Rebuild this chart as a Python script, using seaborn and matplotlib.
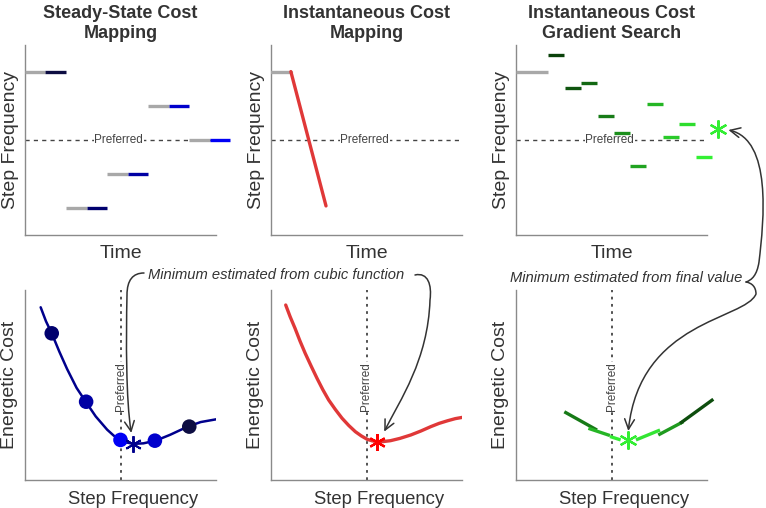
import matplotlib
import pandas as pd
import seaborn as sns

matplotlib.use("Agg")
import matplotlib.pyplot as plt
from matplotlib.path import Path
from matplotlib.patches import FancyArrowPatch

# ---- data (both axes of every panel run 0-100) ----
PREFERRED = 50

# steady-state cost mapping, conditions in the order they were walked
ss_start = [0, 21.5, 43, 64.5, 86]
ss_hold = 10.7
ss_freq = [86, 14, 32, 68, 50]
ss_cost = [28.1, 77.2, 41.2, 20.7, 21.1]
cubic_freq = [8.2, 11, 14, 18, 22, 27, 31.8, 37, 43, 46.3, 49.4, 53, 56.7, 62, 68.4, 76, 85.2, 92, 100.4]
cubic_cost = [90.9, 83.5, 77.2, 67.5, 58.5, 48.5, 41.2, 33.5, 26.5, 23.5, 21.1, 19.8, 19.0, 19.3, 20.7, 23.8, 28.1, 30.5, 32.0]
cubic_min = (56.7, 19.0)

# instantaneous cost mapping: hold, then a fast sweep
sweep_time = [0, 10.4, 28.8]
sweep_freq = [86, 86, 15.3]
inst_freq = [7.7, 10, 12.6, 15.2, 17.9, 21, 24.1, 27.1, 30.2, 33.7, 37.2, 40.7, 44.2, 47.3, 50.4,
             53, 55.6, 58.5, 62.6, 67.5, 73.2, 78.5, 83.7, 88, 92.5, 96.5, 100.4]
inst_cost = [92.1, 86.0, 79.8, 73.1, 66.7, 60.0, 53.5, 47.6, 42.1, 37.1, 32.5, 28.7, 25.4, 23.2, 21.4,
             20.6, 20.2, 20.2, 20.7, 21.9, 23.7, 25.8, 28.1, 29.8, 31.2, 32.3, 33.0]
inst_min = (55.6, 20.2)

# gradient search: initial hold, then short steps
gs_init = (0, 16.8, 86)
gs_start = [16.8, 25.7, 34, 42.8, 51.2, 59.7, 68.4, 76.8, 85.3, 94.1]
gs_len = 8.4
gs_freq = [94.7, 77.2, 80.2, 62.8, 53.8, 36.5, 68.8, 51.6, 58.4, 41.2]
gs_final = (106, 55.8)
gs_seg_f0 = [25.3, 37.9, 49.2, 62.8, 74.5, 85.9]
gs_seg_c0 = [35.9, 27.2, 22.9, 21.1, 23.7, 29.8]
gs_seg_f1 = [42.4, 49.2, 54.8, 75.4, 87.6, 103.3]
gs_seg_c1 = [26.3, 23.4, 21.1, 26.3, 30.7, 42.5]
gs_min = (58.8, 21.1)

# ---- styling ----
TXT = "#333333"
GRAY = "#a8a8a8"
blues = ["#0d0d42", "#00006e", "#0000a4", "#0000cc", "#0000f5"]
greens = sns.blend_palette(["#0a420a", "#33f033"], 10)
seg_greens = ["#177a17", "#26b526", "#33ee33", "#33e533", "#1f9a1f", "#0d4d0d"]
ASTER = (6, 2, 0)

sns.set_theme(style="white")
plt.rcParams["font.family"] = ["Liberation Sans", "DejaVu Sans"]

W, H = 766, 508
fig = plt.figure(figsize=(W / 100, H / 100), dpi=100)


def add_ax(left, top, width=191, height=190):
    ax = fig.add_axes([left / W, 1 - (top + height) / H, width / W, height / H])
    ax.set_xlim(0, 100)
    ax.set_ylim(0, 100)
    ax.set_xticks([])
    ax.set_yticks([])
    for s in ["top", "right"]:
        ax.spines[s].set_visible(False)
    for s in ["left", "bottom"]:
        ax.spines[s].set_color("#8a8a8a")
        ax.spines[s].set_linewidth(1.0)
    return ax


def pref_h(ax):
    ax.axhline(PREFERRED, color="#444444", lw=1, ls=(0, (3, 3)), zorder=1)
    ax.text(49, PREFERRED, "Preferred", ha="center", va="center", fontsize=8.5, color="#444444",
            bbox=dict(facecolor="white", edgecolor="none", pad=0.5), zorder=2)


def pref_v(ax):
    ax.axvline(PREFERRED, color="#444444", lw=1.3, ls=(0, (1.5, 2.5)), zorder=1)
    ax.text(PREFERRED, 49, "Preferred", ha="center", va="center", rotation=90, fontsize=8.5,
            color="#444444", bbox=dict(facecolor="white", edgecolor="none", pad=0.5), zorder=2)


ax1 = add_ax(25, 45)
ax2 = add_ax(271, 45)
ax3 = add_ax(516, 45)
ax4 = add_ax(25, 290)
ax5 = add_ax(271, 290)
ax6 = add_ax(516, 290)

titles = ["Steady-State Cost\nMapping", "Instantaneous Cost\nMapping", "Instantaneous Cost\nGradient Search"]
for ax, t in zip([ax1, ax2, ax3], titles):
    ax.set_title(t, fontsize=13, fontweight="bold", color=TXT, pad=5, linespacing=1.25)
    ax.set_xlabel("Time", fontsize=14, color=TXT, labelpad=7)
    ax.set_ylabel("Step Frequency", fontsize=14, color=TXT, labelpad=4)
    pref_h(ax)
for ax in [ax4, ax5, ax6]:
    ax.set_xlabel("Step Frequency", fontsize=13.3, color=TXT, labelpad=8)
    ax.xaxis.label.set_x(0.565)
    ax.set_ylabel("Energetic Cost", fontsize=14, color=TXT, labelpad=5)
    pref_v(ax)

# steady-state panel
for t0, f, c in zip(ss_start, ss_freq, blues):
    ax1.hlines(f, t0, t0 + ss_hold, color=GRAY, lw=2.4, clip_on=False, zorder=3)
    ax1.hlines(f, t0 + ss_hold, t0 + 2 * ss_hold, color=c, lw=2.4, clip_on=False, zorder=3)

sns.lineplot(x=cubic_freq, y=cubic_cost, sort=False, estimator=None, color="#00008c", lw=1.8, ax=ax4, zorder=3)
ss_df = pd.DataFrame({"freq": ss_freq, "cost": ss_cost, "cond": [str(i) for i in range(5)]})
sns.scatterplot(data=ss_df, x="freq", y="cost", hue="cond", palette=blues, s=110, edgecolor="none",
                legend=False, ax=ax4, zorder=4)
ax4.plot(*cubic_min, marker=ASTER, ms=12, mew=1.4, color="#00008c", zorder=5)

# instantaneous mapping panel
ax2.plot(sweep_time[:2], sweep_freq[:2], color=GRAY, lw=2.4, zorder=3)
ax2.plot(sweep_time[1:], sweep_freq[1:], color="#e03838", lw=2.4, zorder=3)
sns.lineplot(x=inst_freq, y=inst_cost, sort=False, estimator=None, color="#e03838", lw=2.4, ax=ax5, zorder=3)
ax5.plot(*inst_min, marker=ASTER, ms=12, mew=1.6, color="#ff0000", zorder=5)

# gradient search panel
ax3.hlines(gs_init[2], gs_init[0], gs_init[1], color=GRAY, lw=2.4, zorder=3)
for t0, f, c in zip(gs_start, gs_freq, greens):
    ax3.hlines(f, t0, t0 + gs_len, color=c, lw=2.4, clip_on=False, zorder=3)
ax3.plot(*gs_final, marker=ASTER, ms=13, mew=1.6, color="#33ee33", clip_on=False, zorder=5)

for f0, c0, f1, c1, c in zip(gs_seg_f0, gs_seg_c0, gs_seg_f1, gs_seg_c1, seg_greens):
    ax6.plot([f0, f1], [c0, c1], color=c, lw=2.4, clip_on=False, zorder=3, solid_capstyle="butt")
ax6.plot(*gs_min, marker=ASTER, ms=13, mew=1.6, color="#33ee33", zorder=5)

# ---- annotations ----
fig.text(276 / W, 1 - 275 / H, "Minimum estimated from cubic function", ha="center", va="center",
         fontsize=10.6, style="italic", color=TXT)
fig.text(626 / W, 1 - 278 / H, "Minimum estimated from final value", ha="center", va="center",
         fontsize=10.6, style="italic", color=TXT)


def near(ax, pt, dx, dy):
    X, Y = ax.transData.transform(pt)
    return (X + dx, Y + dy)


def curve_arrow(pts, head=True):
    codes = [Path.MOVETO] + [Path.CURVE4] * (len(pts) - 1)
    verts = [fig.transFigure.inverted().transform(p) for p in pts]
    style = "->,head_length=0.45,head_width=0.22" if head else "-"
    fig.add_artist(FancyArrowPatch(path=Path(verts, codes), arrowstyle=style, mutation_scale=16,
                                   color=TXT, lw=1.1, transform=fig.transFigure))


curve_arrow([(144, 235), (133, 235), (127, 228), (127, 213),
             (126, 168), (126, 108), near(ax4, cubic_min, -2, 11)])
curve_arrow([(415, 233), (428, 236), (432, 223), (430, 208),
             (428, 148), (400, 108), near(ax5, inst_min, 7, 10)])
curve_arrow([(746, 226), (752, 228), (757, 233), (759, 246),
             (764, 288), (772, 368), near(ax3, gs_final, 10, -1)])
curve_arrow([(746, 226), (752, 225), (756, 221), (756, 214),
             (745, 188), (640, 188), near(ax6, gs_min, 0, 9)])

plt.savefig("out.png", dpi=100)
plt.close(fig)
